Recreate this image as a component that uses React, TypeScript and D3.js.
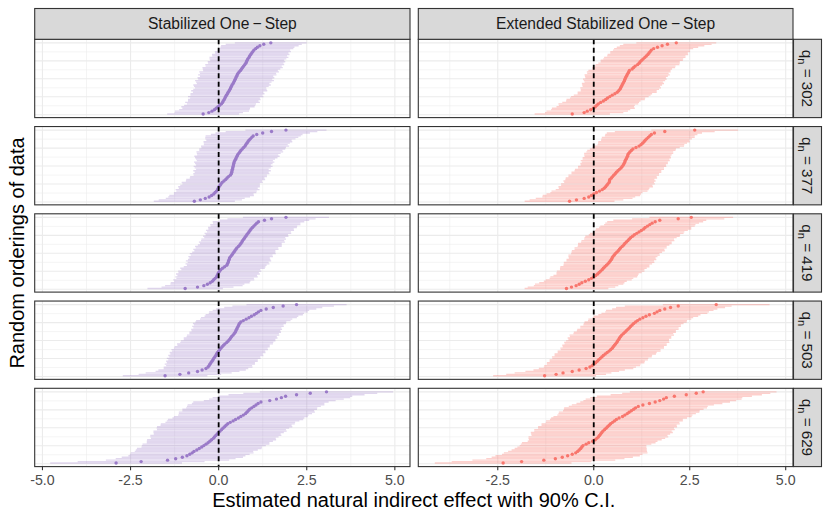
import React, { useEffect, useRef } from "react";
import * as d3 from "d3";

// facet labels and axis breaks
const methodLabels = ["Stabilized One\u2009\u2212\u2009Step", "Extended Stabilized One\u2009\u2212\u2009Step"];
const sampleSizes = [302, 377, 419, 503, 629];
const majorBreaks = [-5, -2.5, 0, 2.5, 5];
const minorBreaks = [-3.75, -1.25, 1.25, 3.75];
const rankMajor = [0, 25, 50, 75, 100];
const rankMinor = [12.5, 37.5, 62.5, 87.5];
const xDomains: [number, number][] = [[-5.22, 5.43], [-4.57, 5.19]];

// sorted point estimates (one per random ordering) and CI half widths
const est_sos_302 = [-0.44,-0.28,-0.19,-0.12,-0.07,-0.02,0.03,0.08,0.11,0.13,0.16,0.18,0.2,0.22,0.25,0.27,0.3,0.32,0.34,0.36,0.38,0.41,0.43,0.45,0.47,0.49,0.51,0.53,0.55,0.58,0.62,0.65,0.68,0.71,0.74,0.77,0.79,0.81,0.83,0.86,0.88,0.91,0.94,0.97,1.0,1.05,1.1,1.17,1.28,1.48];
const hw_sos_302 = [1.02,0.97,1.05,1.0,0.96,1.04,1.01,0.98,1.06,1.0,1.03,0.99,1.07,1.02,1.05,1.0,1.08,1.04,1.01,1.06,1.1,1.03,1.07,1.12,1.05,1.09,1.04,1.11,1.08,1.13,1.06,1.1,1.14,1.08,1.12,1.07,1.1,1.05,1.09,1.12,1.06,1.1,1.04,1.08,1.03,1.07,1.05,1.1,1.08,1.02];
const est_sos_377 = [-0.69,-0.52,-0.38,-0.27,-0.2,-0.14,-0.1,-0.06,-0.03,-0.01,0.01,0.04,0.07,0.1,0.15,0.2,0.24,0.28,0.33,0.36,0.37,0.38,0.39,0.4,0.41,0.42,0.43,0.44,0.46,0.48,0.5,0.52,0.54,0.57,0.6,0.63,0.67,0.71,0.75,0.77,0.8,0.83,0.86,0.9,0.94,0.98,1.08,1.25,1.5,1.91];
const hw_sos_377 = [1.15,1.18,1.12,1.16,1.2,1.13,1.17,1.14,1.19,1.12,1.16,1.13,1.1,1.15,1.08,1.12,1.06,1.09,1.04,1.08,1.05,1.1,1.03,1.08,1.12,1.06,1.1,1.14,1.08,1.12,1.17,1.21,1.15,1.19,1.23,1.18,1.22,1.2,1.25,1.19,1.22,1.26,1.21,1.28,1.32,1.35,1.3,1.34,1.3,1.15];
const est_sos_419 = [-0.95,-0.6,-0.42,-0.32,-0.24,-0.18,-0.14,-0.1,-0.06,-0.04,-0.02,0.0,0.03,0.06,0.11,0.17,0.23,0.25,0.27,0.28,0.3,0.31,0.34,0.37,0.4,0.43,0.46,0.49,0.52,0.56,0.6,0.63,0.66,0.68,0.71,0.74,0.77,0.8,0.83,0.86,0.89,0.92,0.96,1.0,1.04,1.08,1.13,1.3,1.5,1.91];
const hw_sos_419 = [1.07,1.02,1.1,1.05,1.12,1.08,1.15,1.1,1.17,1.13,1.19,1.14,1.18,1.12,1.2,1.16,1.13,1.19,1.15,1.21,1.17,1.14,1.2,1.16,1.22,1.18,1.15,1.21,1.17,1.23,1.19,1.16,1.22,1.18,1.2,1.15,1.21,1.17,1.23,1.19,1.25,1.21,1.26,1.23,1.28,1.24,1.3,1.27,1.25,1.22];
const est_sos_503 = [-1.52,-1.1,-0.85,-0.6,-0.47,-0.36,-0.3,-0.27,-0.25,-0.22,-0.19,-0.16,-0.14,-0.11,-0.08,-0.06,-0.03,0.0,0.03,0.06,0.1,0.14,0.18,0.23,0.27,0.31,0.34,0.37,0.41,0.44,0.47,0.49,0.51,0.53,0.55,0.57,0.59,0.63,0.7,0.78,0.86,0.93,1.01,1.07,1.13,1.2,1.35,1.55,1.83,2.21];
const hw_sos_503 = [1.2,1.17,1.22,1.19,1.24,1.2,1.26,1.22,1.28,1.25,1.3,1.27,1.33,1.29,1.35,1.31,1.36,1.32,1.37,1.33,1.35,1.31,1.36,1.32,1.34,1.3,1.33,1.28,1.31,1.27,1.3,1.26,1.29,1.25,1.3,1.27,1.32,1.29,1.34,1.31,1.36,1.33,1.38,1.35,1.4,1.37,1.42,1.39,1.44,1.42];
const est_sos_629 = [-2.91,-2.2,-1.45,-1.22,-1.03,-0.9,-0.82,-0.75,-0.7,-0.62,-0.55,-0.48,-0.42,-0.36,-0.3,-0.25,-0.2,-0.15,-0.12,-0.08,-0.04,0.0,0.04,0.08,0.12,0.17,0.21,0.26,0.33,0.41,0.48,0.56,0.63,0.7,0.76,0.8,0.84,0.88,0.94,1.0,1.06,1.12,1.2,1.45,1.64,1.78,1.9,2.21,2.6,3.06];
const hw_sos_629 = [1.87,1.8,1.75,1.7,1.72,1.66,1.7,1.74,1.68,1.73,1.77,1.71,1.76,1.8,1.74,1.79,1.83,1.77,1.82,1.86,1.8,1.85,1.89,1.83,1.88,1.92,1.86,1.9,1.84,1.88,1.92,1.87,1.9,1.85,1.89,1.93,1.87,1.91,1.86,1.9,1.94,1.88,1.92,1.87,1.91,1.95,1.89,1.93,1.9,1.89];

const est_esos_302 = [-0.56,-0.25,-0.17,-0.08,-0.01,0.04,0.08,0.12,0.18,0.25,0.31,0.36,0.42,0.48,0.55,0.61,0.65,0.68,0.7,0.72,0.74,0.76,0.78,0.8,0.81,0.83,0.85,0.87,0.89,0.91,0.93,1.0,1.04,1.08,1.14,1.18,1.21,1.25,1.29,1.33,1.37,1.41,1.44,1.47,1.5,1.56,1.66,1.78,1.92,2.15];
const hw_esos_302 = [0.98,1.02,1.06,1.03,1.08,1.01,0.99,1.04,1.0,0.97,1.02,0.98,1.01,1.0,0.97,1.03,0.99,1.02,1.05,1.01,1.04,1.07,1.02,1.06,1.09,1.05,1.08,1.11,1.06,1.09,1.07,1.04,1.08,1.05,1.09,1.06,1.03,1.07,1.04,1.06,1.02,1.05,1.01,1.04,1.0,1.03,1.06,1.1,1.15,1.04];
const est_esos_377 = [-0.63,-0.45,-0.25,-0.13,-0.06,0.0,0.07,0.15,0.22,0.27,0.31,0.34,0.37,0.4,0.41,0.42,0.46,0.49,0.52,0.56,0.59,0.63,0.67,0.71,0.74,0.77,0.79,0.81,0.82,0.84,0.86,0.88,0.89,0.91,0.94,0.98,1.02,1.1,1.18,1.23,1.27,1.31,1.34,1.38,1.42,1.46,1.5,1.58,1.85,2.63];
const hw_esos_377 = [1.17,1.22,1.26,1.21,1.27,1.23,1.2,1.25,1.21,1.18,1.23,1.19,1.22,1.17,1.2,1.16,1.19,1.15,1.18,1.14,1.17,1.13,1.16,1.12,1.15,1.11,1.14,1.12,1.16,1.13,1.15,1.12,1.14,1.16,1.13,1.15,1.12,1.14,1.17,1.13,1.16,1.19,1.15,1.18,1.21,1.17,1.2,1.24,1.3,1.13];
const est_esos_419 = [-0.71,-0.58,-0.46,-0.38,-0.31,-0.22,-0.13,-0.06,0.0,0.05,0.1,0.14,0.18,0.22,0.25,0.29,0.33,0.37,0.4,0.43,0.46,0.48,0.5,0.53,0.56,0.6,0.64,0.67,0.7,0.74,0.78,0.81,0.85,0.89,0.92,0.96,1.01,1.06,1.12,1.18,1.24,1.3,1.34,1.4,1.46,1.52,1.6,1.72,2.2,2.54];
const hw_esos_419 = [1.09,1.14,1.1,1.15,1.11,1.08,1.12,1.09,1.13,1.1,1.07,1.11,1.14,1.1,1.13,1.16,1.12,1.15,1.18,1.14,1.17,1.13,1.16,1.19,1.15,1.18,1.21,1.17,1.2,1.16,1.19,1.22,1.18,1.21,1.17,1.2,1.23,1.19,1.22,1.18,1.21,1.24,1.2,1.23,1.19,1.22,1.25,1.21,1.2,1.09];
const est_esos_503 = [-1.28,-0.98,-0.8,-0.56,-0.38,-0.2,-0.1,-0.04,0.0,0.05,0.09,0.13,0.17,0.21,0.25,0.3,0.35,0.4,0.44,0.48,0.51,0.54,0.57,0.6,0.62,0.65,0.67,0.7,0.73,0.77,0.81,0.85,0.89,0.93,0.96,1.0,1.04,1.09,1.14,1.2,1.28,1.36,1.45,1.58,1.65,1.72,1.85,2.0,2.2,3.19];
const hw_esos_503 = [1.34,1.3,1.26,1.22,1.19,1.23,1.2,1.25,1.22,1.27,1.24,1.28,1.25,1.3,1.27,1.32,1.29,1.34,1.3,1.35,1.32,1.36,1.33,1.37,1.34,1.31,1.35,1.32,1.36,1.3,1.33,1.29,1.32,1.28,1.31,1.27,1.3,1.33,1.29,1.34,1.31,1.36,1.33,1.38,1.35,1.4,1.37,1.42,1.39,1.39];
const est_esos_629 = [-2.36,-1.88,-1.3,-1.0,-0.82,-0.68,-0.56,-0.47,-0.42,-0.38,-0.34,-0.31,-0.28,-0.2,-0.13,-0.03,0.04,0.08,0.12,0.15,0.18,0.21,0.24,0.28,0.32,0.36,0.4,0.44,0.49,0.54,0.59,0.66,0.75,0.81,0.87,0.92,0.98,1.04,1.09,1.16,1.28,1.45,1.6,1.72,1.82,1.89,2.1,2.41,2.67,2.85];
const hw_esos_629 = [1.78,1.82,1.86,1.8,1.84,1.88,1.83,1.87,1.81,1.76,1.72,1.68,1.65,1.7,1.74,1.69,1.73,1.78,1.82,1.77,1.81,1.85,1.79,1.83,1.77,1.81,1.76,1.8,1.74,1.78,1.73,1.77,1.8,1.76,1.79,1.83,1.78,1.82,1.86,1.81,1.85,1.9,1.95,1.99,2.03,1.98,2.02,1.97,1.93,1.91];

const estimates = [
  [est_sos_302, est_sos_377, est_sos_419, est_sos_503, est_sos_629],
  [est_esos_302, est_esos_377, est_esos_419, est_esos_503, est_esos_629],
];
const halfWidths = [
  [hw_sos_302, hw_sos_377, hw_sos_419, hw_sos_503, hw_sos_629],
  [hw_esos_302, hw_esos_377, hw_esos_419, hw_esos_503, hw_esos_629],
];

const pointColors = ["#9A7AC8", "#F8766D"];
const barOpacity = [0.3, 0.34];
const FONT = "'Liberation Sans', Arial, Helvetica, sans-serif";
const W = 830;
const H = 519;

export default function App() {
  const svgRef = useRef<SVGSVGElement | null>(null);

  useEffect(() => {
    const svg = d3.select(svgRef.current);
    svg.selectAll("*").remove();

    // layout
    const colLeft = [34.7, 418.3];
    const colRight = [410, 793];
    const stripTop = 8.5;
    const panelTop0 = 39.3;
    const panelH = 78.3;
    const panelPitch = 87.25;
    const stripRightX = 793.5;
    const stripRightW = 28;

    svg.append("rect").attr("width", W).attr("height", H).attr("fill", "white");

    sampleSizes.forEach((n, r) => {
      const top = panelTop0 + r * panelPitch;
      const bottom = top + panelH;
      const y = d3.scaleLinear().domain([-3.95, 104.95]).range([bottom, top]);

      methodLabels.forEach((_, c) => {
        const x = d3.scaleLinear().domain(xDomains[c]).range([colLeft[c], colRight[c]]);
        const est = estimates[c][r];
        const hw = halfWidths[c][r];
        const rows = est.map((e, i) => ({ e, h: hw[i], rank: 1 + (i * 99) / (est.length - 1) }));
        const g = svg.append("g");
        const ticks = majorBreaks.filter((b) => b >= xDomains[c][0] && b <= xDomains[c][1]);
        const minors = minorBreaks.filter((b) => b >= xDomains[c][0] && b <= xDomains[c][1]);

        // grid
        g.selectAll(".hmin").data(rankMinor).join("line")
          .attr("x1", colLeft[c]).attr("x2", colRight[c])
          .attr("y1", (d) => y(d)).attr("y2", (d) => y(d))
          .attr("stroke", "#EBEBEB").attr("stroke-width", 0.55);
        g.selectAll(".vmin").data(minors).join("line")
          .attr("x1", (d) => x(d)).attr("x2", (d) => x(d))
          .attr("y1", top).attr("y2", bottom)
          .attr("stroke", "#EBEBEB").attr("stroke-width", 0.55);
        g.selectAll(".hmaj").data(rankMajor).join("line")
          .attr("x1", colLeft[c]).attr("x2", colRight[c])
          .attr("y1", (d) => y(d)).attr("y2", (d) => y(d))
          .attr("stroke", "#EBEBEB").attr("stroke-width", 1.1);
        g.selectAll(".vmaj").data(ticks).join("line")
          .attr("x1", (d) => x(d)).attr("x2", (d) => x(d))
          .attr("y1", top).attr("y2", bottom)
          .attr("stroke", "#EBEBEB").attr("stroke-width", 1.1);

        // CI bars
        g.append("g").selectAll("line").data(rows).join("line")
          .attr("x1", (d) => x(d.e - d.h)).attr("x2", (d) => x(d.e + d.h))
          .attr("y1", (d) => y(d.rank)).attr("y2", (d) => y(d.rank))
          .attr("stroke", pointColors[c]).attr("stroke-opacity", barOpacity[c])
          .attr("stroke-width", 1.35);

        // point estimates
        g.append("g").selectAll("circle").data(rows).join("circle")
          .attr("cx", (d) => x(d.e)).attr("cy", (d) => y(d.rank)).attr("r", 1.7)
          .attr("fill", pointColors[c]);

        // reference line at zero
        g.append("line")
          .attr("x1", x(0)).attr("x2", x(0)).attr("y1", top).attr("y2", bottom)
          .attr("stroke", "black").attr("stroke-width", 1.8).attr("stroke-dasharray", "5,3.5");

        // panel border
        g.append("rect")
          .attr("x", colLeft[c]).attr("y", top)
          .attr("width", colRight[c] - colLeft[c]).attr("height", panelH)
          .attr("fill", "none").attr("stroke", "#333333").attr("stroke-width", 1.1);

        // x axis only on the bottom row
        if (r === sampleSizes.length - 1) {
          g.selectAll(".tick").data(ticks).join("line")
            .attr("x1", (d) => x(d)).attr("x2", (d) => x(d))
            .attr("y1", bottom).attr("y2", bottom + 3.6)
            .attr("stroke", "#333333").attr("stroke-width", 1.1);
          g.selectAll(".ticklab").data(ticks).join("text")
            .attr("x", (d) => x(d)).attr("y", bottom + 18)
            .attr("text-anchor", "middle")
            .attr("font-family", FONT).attr("font-size", 14.2)
            .attr("fill", "#4D4D4D")
            .text((d) => d.toFixed(1));
        }
      });

      // right strip
      svg.append("rect")
        .attr("x", stripRightX).attr("y", top)
        .attr("width", stripRightW).attr("height", panelH)
        .attr("fill", "#D9D9D9").attr("stroke", "#333333").attr("stroke-width", 1.1);
      const t = svg.append("text")
        .attr("transform", `translate(${stripRightX + stripRightW / 2 - 5.2},${top + panelH / 2}) rotate(90)`)
        .attr("text-anchor", "middle")
        .attr("font-family", FONT).attr("font-size", 15.2).attr("fill", "#1A1A1A");
      t.append("tspan").text("q");
      t.append("tspan").attr("font-size", 11).attr("dy", 3.8).text("n");
      t.append("tspan").attr("dy", -3.8).text(` = ${n}`);
    });

    // top strips
    methodLabels.forEach((label, c) => {
      svg.append("rect")
        .attr("x", colLeft[c]).attr("y", stripTop)
        .attr("width", colRight[c] - colLeft[c]).attr("height", panelTop0 - stripTop)
        .attr("fill", "#D9D9D9").attr("stroke", "#333333").attr("stroke-width", 1.1);
      svg.append("text")
        .attr("x", (colLeft[c] + colRight[c]) / 2).attr("y", (stripTop + panelTop0) / 2 + 5.3)
        .attr("text-anchor", "middle")
        .attr("font-family", FONT).attr("font-size", 15.6).attr("fill", "#1A1A1A")
        .text(label);
    });

    // axis titles
    svg.append("text")
      .attr("x", (colLeft[0] + colRight[1]) / 2).attr("y", 506.5)
      .attr("text-anchor", "middle")
      .attr("font-family", FONT).attr("font-size", 20).attr("fill", "black")
      .text("Estimated natural indirect effect with 90% C.I.");
    svg.append("text")
      .attr("transform", `translate(23.5,${(panelTop0 + panelTop0 + 4 * panelPitch + panelH) / 2}) rotate(-90)`)
      .attr("text-anchor", "middle")
      .attr("font-family", FONT).attr("font-size", 20).attr("fill", "black")
      .text("Random orderings of data");
  }, []);

  return (
    <svg
      ref={svgRef}
      width={W}
      height={H}
      style={{ position: "absolute", left: 0, top: 0, display: "block" }}
    />
  );
}
